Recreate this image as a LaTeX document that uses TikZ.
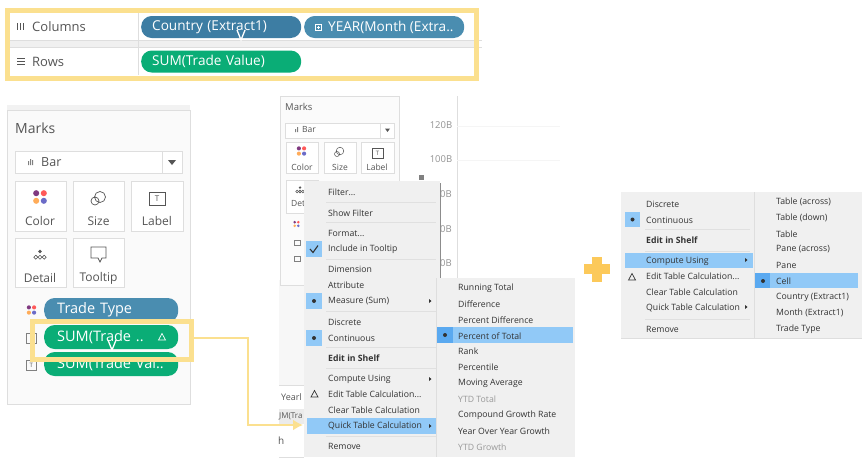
\documentclass[tikz,border=0pt]{standalone}
\usepackage{fontspec}
\setmainfont{Open Sans}
\usetikzlibrary{arrows.meta}

\definecolor{hilite}{HTML}{FBE08F}
\definecolor{shelfblue}{HTML}{3D7DA3}
\definecolor{pillblue}{HTML}{4A8DB0}
\definecolor{pillgreen}{HTML}{0AAD76}
\definecolor{menubg}{HTML}{F0F0F0}
\definecolor{menusel}{HTML}{91C9F7}
\definecolor{menudot}{HTML}{5AA9F0}
\definecolor{menutxt}{HTML}{333333}
\definecolor{edgegray}{HTML}{DEDEDE}
\definecolor{labelgray}{HTML}{555555}

\tikzset{
    pill/.style={rectangle, rounded corners=10.5pt, text=white, anchor=west, inner ysep=0pt, inner xsep=11pt, minimum height=#1, text width=138pt, font=\fontsize{13.6}{15}\selectfont},
    pill/.default=22pt,
    markpill/.style={pill=24pt, inner xsep=13pt, text width=108pt, font=\fontsize{14.5}{16}\selectfont},
    shelflabel/.style={anchor=west, inner sep=0pt, text=labelgray, font=\fontsize{13}{15}\selectfont},
    card/.style={draw=edgegray, fill=white, line width=0.7pt},
    cardlabel/.style={inner sep=0pt, text=labelgray, font=\fontsize{#1}{15}\selectfont},
    menuitem/.style={anchor=west, inner sep=0pt, text=menutxt, font=\fontsize{8.7}{10}\selectfont},
    sepline/.style={draw=white!88!black, line width=0.6pt},
    highbox/.style={draw=hilite, line width=5pt},
    axislabel/.style={inner sep=0pt, text=gray!85, font=\fontsize{9.5}{11}\selectfont},
}

\newcommand{\threedots}{...}
% four dots of the color card
\newcommand{\colordots}[3]{
    \fill[violet!55!gray] (#1-#3,#2-#3) circle (#3*0.8);
    \fill[red!65!white] (#1+#3,#2-#3) circle (#3*0.8);
    \fill[orange!65!white] (#1-#3,#2+#3) circle (#3*0.8);
    \fill[blue!45!gray!80] (#1+#3,#2+#3) circle (#3*0.8);
}
% one dot over three rings
\newcommand{\detaildots}[3]{
    \fill[labelgray] (#1,#2-#3*1.6) circle (#3*0.9);
    \foreach \k in {-1.9,0,1.9} {
        \draw[labelgray, line width=0.6pt] (#1+\k*#3,#2+#3) circle (#3*0.9);
    }
}
\newcommand{\dropmark}[2]{
    \fill[menutxt] (#1,#2-2) -- (#1+2.5,#2) -- (#1,#2+2) -- cycle;
}
\newcommand{\deltamark}[3]{
    \draw[#3, line width=0.7pt] (#1-3.5,#2+3) -- (#1,#2-3.5) -- (#1+3.5,#2+3) -- cycle;
}
\newcommand{\cursorv}[2]{
    \draw[white, line width=1.3pt] (#1-4,#2-5) -- (#1,#2+5) -- (#1+4,#2-5);
}

\begin{document}
\begin{tikzpicture}[x=1pt,y=-1pt]
    \useasboundingbox (0,0) rectangle (866,461);
    \fill[white] (0,0) rectangle (866,461);

    % shelves
    \fill[black!6] (10,41) rectangle (474,47);
    \draw[edgegray, line width=0.6pt] (10,40.5) -- (482,40.5);
    \draw[edgegray, line width=0.6pt] (10,47.5) -- (482,47.5);
    \draw[edgegray, line width=0.6pt] (138.5,13) -- (138.5,75);
    \fill[labelgray] (17,23) rectangle (17.8,30);
    \fill[labelgray] (20,23) rectangle (20.8,30);
    \fill[labelgray] (23,23) rectangle (23.8,30);
    \foreach \yy in {58,61,64} {
        \draw[labelgray, line width=0.8pt] (17,\yy) -- (25,\yy);
    }
    \node[shelflabel] (columnstxt) at (32,27) {Columns};
    \node[shelflabel] (rowstxt) at (32,61.5) {Rows};
    \node[pill, fill=shelfblue] (countrypill) at (141,27) {Country (Extract1)};
    \node[pill, fill=pillblue, inner xsep=0pt, text width=160pt] (yearpill) at (304,27) {};
    \node[anchor=west, inner sep=0pt, text=white, font=\fontsize{13.6}{15}\selectfont] (yeartxt) at (328,27) {YEAR(Month (Extra..};
    \draw[white, line width=0.5pt] (315.5,24.5) rectangle (321,30);
    \draw[white, line width=0.5pt] (316.5,27.2) -- (320,27.2) (318.2,25.5) -- (318.2,29);
    \node[pill, fill=pillgreen] (sumpill) at (141,61.5) {SUM(Trade Value)};
    \cursorv{241}{35}
    \draw[highbox] (7.5,10) rectangle (476,78);

    % marks card, large
    \fill[black!5] (7,105) rectangle (190,110);
    \draw[edgegray, fill=black!2, line width=0.8pt] (7.5,110) rectangle (190.5,404);
    \node[cardlabel=14, anchor=west] (markstitle) at (15,128) {Marks};
    \draw[card] (15.5,151.5) rectangle (182.5,173.5);
    \draw[edgegray, line width=0.7pt] (162,152) -- (162,173);
    \fill[gray] (28,161) rectangle (29,165) (30,159) rectangle (31,165) (32,160) rectangle (33,165);
    \node[cardlabel=12.5, anchor=west] (bartxt) at (41,162) {Bar};
    \fill[labelgray] (168,160) -- (176,160) -- (172,165) -- cycle;
    \draw[card] (15.5,181.5) rectangle (66.5,231);
    \draw[card] (73.5,181.5) rectangle (124,231);
    \draw[card] (131.5,181.5) rectangle (183,231);
    \draw[card] (15.5,238.5) rectangle (66.5,287.5);
    \draw[card] (73.5,238.5) rectangle (124,287.5);
    \colordots{40}{197}{3.8}
    \draw[labelgray, line width=0.7pt] (100,197) circle (5.5) (95,201) circle (4);
    \draw[labelgray, line width=0.7pt] (149,192) rectangle (165,205);
    \node[inner sep=0pt, text=labelgray, font=\fontsize{8}{9}\rmfamily] (labelicon) at (157,198.5) {T};
    \detaildots{40}{255}{2.2}
    \draw[labelgray, line width=0.7pt] (91,247) -- (106,247) -- (106,258) -- (102,258) -- (100,262) -- (98,258) -- (91,258) -- cycle;
    \node[cardlabel=12] (colortxt) at (40,221) {Color};
    \node[cardlabel=12] (sizetxt) at (98.5,221) {Size};
    \node[cardlabel=12] (labeltxt) at (157,221) {Label};
    \node[cardlabel=12] (detailtxt) at (40,278) {Detail};
    \node[cardlabel=12] (tooltiptxt) at (98.5,278) {Tooltip};
    \colordots{31.5}{310}{2.6}
    \draw[gray, line width=0.5pt] (26.5,333) rectangle (36,343);
    \draw[gray, line width=0.5pt] (26.5,360) rectangle (36,370);
    \node[inner sep=0pt, text=labelgray, font=\fontsize{6}{7}\rmfamily] (tagicon) at (31.3,365) {T};
    \node[markpill, fill=pillblue] (typepill) at (44,310) {Trade Type};
    \node[markpill, fill=pillgreen] (tradepill) at (44,337) {SUM(Trade ..};
    \node[markpill, fill=pillgreen] (valpill) at (44,364) {SUM(Trade Val..};
    \deltamark{162}{337}{white}
    \cursorv{112}{345}
    \draw[highbox] (32.5,321) rectangle (191.5,359);
    \coordinate (hiliteout) at (194,338);
    \coordinate (hiliteelbow) at (248,425);
    \coordinate (quickin) at (303,425);

    % marks card and axis behind the first menu
    \draw[edgegray, line width=0.6pt] (457,96) -- (457,280);
    \draw[black!4, line width=0.6pt] (457,126) -- (560,126) (457,160) -- (560,160);
    \fill[black!3] (279,280) rectangle (304,385);
    \draw[edgegray, fill=black!1.5, line width=0.6pt] (280,96) rectangle (399,285);
    \node[cardlabel=9.5, anchor=west] (marksmini) at (285,107) {Marks};
    \draw[card] (285.5,123) rectangle (394,138);
    \draw[edgegray, line width=0.6pt] (380,123) -- (380,138);
    \node[cardlabel=8.5, anchor=west] (barmini) at (302,129.5) {Bar};
    \fill[gray] (295,129) rectangle (296,132) (297,127) rectangle (298,132);
    \fill[labelgray] (385,128.5) -- (390,128.5) -- (387.5,132) -- cycle;
    \draw[card] (286,142) rectangle (318,173);
    \draw[card] (324,142) rectangle (356,173);
    \draw[card] (361,142) rectangle (394,173);
    \draw[card] (286,180) rectangle (318,213);
    \colordots{301.5}{151}{2.6}
    \draw[labelgray, line width=0.5pt] (340,151) circle (3.8) (337,154) circle (2.5);
    \draw[labelgray, line width=0.5pt] (372,148) rectangle (383,158);
    \node[inner sep=0pt, text=labelgray, font=\fontsize{6}{7}\rmfamily] (labelmini) at (377.5,153) {T};
    \node[cardlabel=8.5] (colormini) at (302,167) {Color};
    \node[cardlabel=8.5] (sizemini) at (340,167) {Size};
    \node[cardlabel=8.5] (labelminib) at (377,167) {Label};
    \detaildots{300}{190}{1.5}
    \node[cardlabel=8.5, anchor=west] (detmini) at (291,204) {Det};
    \colordots{296.5}{224}{1.8}
    \draw[gray, line width=0.4pt] (294,240) rectangle (300,245);
    \draw[gray, line width=0.4pt] (294,256) rectangle (300,261);
    \fill[gray] (419,175) rectangle (424,180);
    \node[axislabel] (ticka) at (441,125) {120B};
    \node[axislabel] (tickb) at (441,159) {100B};
    \node[axislabel, anchor=east] (tickc) at (452,194) {0B};
    \node[axislabel, anchor=east] (tickd) at (452,229) {0B};
    \node[axislabel, anchor=east] (ticke) at (452,263) {0B};
    \fill[black!8] (279,409) rectangle (304,424);
    \node[cardlabel=9, anchor=west] (yearcut) at (281,397) {Yearl};
    \node[cardlabel=8, anchor=west] (sumcut) at (279,416) {JM(Tra};
    \node[cardlabel=10, anchor=west] (hcut) at (278,441) {h};
    \draw[edgegray, line width=0.6pt] (279,385) -- (304,385) (279,457) -- (304,457);

    % first menu
    \fill[black!45] (304,183) rectangle (441,280);
    \fill[menubg] (304,181) rectangle (439.5,457);
    \fill[menusel] (307,418) rectangle (436,434);
    \fill[menusel] (306,241) rectangle (322,257);
    \fill[menusel] (306,293) rectangle (322,309);
    \fill[menusel] (306,330) rectangle (322,346);
    \foreach \yy in {202.5,222.5,259.5,311.5,347.5,368,436} {
        \draw[sepline] (326,\yy) -- (436,\yy);
    }
    \foreach \nm/\yy/\txt in {filter/192/Filter\threedots, showfilter/213/Show Filter, format/233/Format\threedots, tooltip/249/Include in Tooltip, dimension/269/Dimension, attribute/285/Attribute, measure/301/Measure (Sum), discrete/322/Discrete, continuous/338/Continuous, compute/379/Compute Using, edit/394/Edit Table Calculation\threedots, clear/410/Clear Table Calculation, quick/426/Quick Table Calculation, remove/446/Remove} {
        \node[menuitem] (\nm) at (328,\yy) {\txt};
    }
    \node[menuitem, font=\fontsize{8.7}{10}\bfseries] (shelf) at (328,358) {Edit in Shelf};
    \draw[menutxt, line width=1.1pt] (310,249) -- (313,252.5) -- (318,245.5);
    \fill[menutxt] (314,301) circle (2);
    \fill[menutxt] (314,338) circle (2);
    \deltamark{314.5}{394}{menutxt}
    \dropmark{429}{301}
    \dropmark{429}{379}
    \dropmark{429}{426}

    % first submenu
    \fill[menubg] (436,278) rectangle (575,457);
    \draw[edgegray, line width=0.6pt] (436,278) -- (436,457);
    \fill[menusel] (437,327) rectangle (573,343);
    \fill[menudot] (437,327) rectangle (453,343);
    \fill[menutxt] (445,335) circle (2);
    \foreach \nm/\yy/\txt in {running/288/Running Total, difference/304/Difference, pctdiff/320/Percent Difference, pcttotal/336/Percent of Total, rank/351/Rank, percentile/367/Percentile, moving/383/Moving Average, compound/415/Compound Growth Rate, yoy/431/Year Over Year Growth} {
        \node[menuitem] (\nm) at (458,\yy) {\txt};
    }
    \node[menuitem, text=gray!80] (ytdtotal) at (458,399) {YTD Total};
    \node[menuitem, text=gray!80] (ytdgrowth) at (458,447) {YTD Growth};

    % connector to the menu
    \draw[draw=hilite, line width=2.5pt, -{Latex[length=10pt,width=11pt]}] (hiliteout) -| (hiliteelbow) -- (quickin);

    % plus
    \fill[hilite!70!orange!90!yellow] (592,257) rectangle (602,282);
    \fill[hilite!70!orange!90!yellow] (584,264) rectangle (610,274);

    % second menu
    \fill[menubg] (621,192) rectangle (862,338);
    \draw[edgegray, line width=0.6pt] (621,338) -- (862,338);
    \draw[edgegray, line width=0.6pt] (754,192) -- (754,338);
    \fill[menusel] (625,253) rectangle (753,268);
    \fill[menusel] (625,212) rectangle (640,227);
    \foreach \yy in {229.5,251,319} {
        \draw[sepline] (645,\yy) -- (750,\yy);
    }
    \foreach \nm/\yy/\txt in {discreteb/204/Discrete, continuousb/220/Continuous, computeb/261/Compute Using, editb/276/Edit Table Calculation\threedots, clearb/292/Clear Table Calculation, quickb/308/Quick Table Calculation, removeb/329/Remove} {
        \node[menuitem] (\nm) at (646,\yy) {\txt};
    }
    \node[menuitem, font=\fontsize{8.7}{10}\bfseries] (shelfb) at (646,240) {Edit in Shelf};
    \fill[menutxt] (632.5,219.5) circle (2);
    \deltamark{632}{277}{menutxt}
    \dropmark{745}{260}
    \dropmark{745}{307}
    \fill[menusel] (755,273) rectangle (858,288);
    \fill[menudot] (755,273) rectangle (770,288);
    \fill[menutxt] (763,281) circle (2);
    \foreach \nm/\yy/\txt in {across/202/Table (across), down/218/Table (down), wholetable/234/Table, paneacross/249/Pane (across), pane/265/Pane, cell/281/Cell, country/297/Country (Extract1), month/313/Month (Extract1), tradetype/329/Trade Type} {
        \node[menuitem] (\nm) at (776,\yy) {\txt};
    }
\end{tikzpicture}
\end{document}
